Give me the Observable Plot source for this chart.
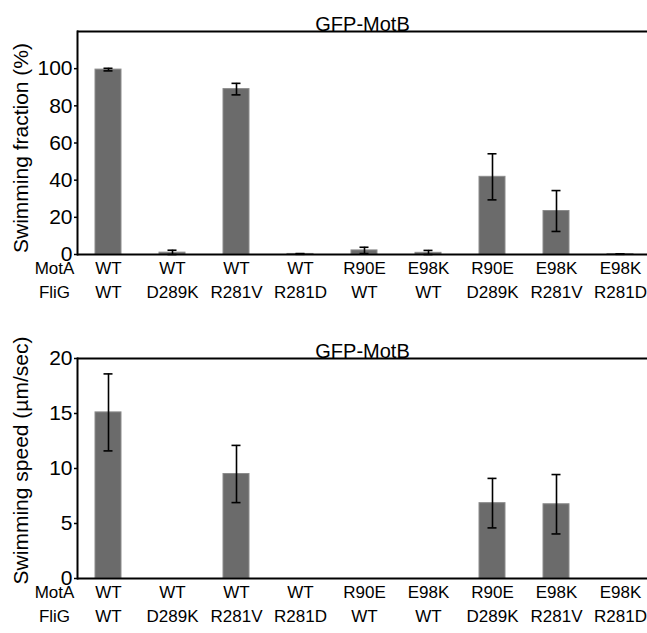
<!DOCTYPE html>
<html>
<head>
<meta charset="utf-8">
<script src="https://cdn.jsdelivr.net/npm/d3@7"></script>
<script src="https://cdn.jsdelivr.net/npm/@observablehq/plot@0.6"></script>
<style>
  html, body { margin: 0; padding: 0; background: white; }
  #chart svg { display: block; }
</style>
</head>
<body>
<div id="chart"></div>
<script>
const motA = ["WT", "WT", "WT", "WT", "R90E", "E98K", "R90E", "E98K", "E98K"];
const fliG = ["WT", "D289K", "R281V", "R281D", "WT", "WT", "D289K", "R281V", "R281D"];
const fraction = [99.5, 1.0, 89.0, 0.3, 2.2, 0.9, 41.8, 23.4, 0.2];
const fractionErr = [0.7, 1.3, 3.1, 0.2, 1.7, 1.3, 12.4, 11.0, 0.1];
const speed = [15.1, 0, 9.5, 0, 0, 0, 6.85, 6.75, 0];
const speedErr = [3.5, 0, 2.6, 0, 0, 0, 2.25, 2.7, 0];
const fractionTicks = [0, 20, 40, 60, 80, 100];
const speedTicks = [0, 5, 10, 15, 20];
const panelTitle = "GFP-MotB";
const rowLabels = ["MotA", "FliG"];

const FONT = "Arial, 'Liberation Sans', Helvetica, sans-serif";

function panel({values, errs, ticks, domain, label, height, marginTop, marginBottom, labelDy}) {
  const data = values.map((v, i) => ({i, v, e: errs[i], motA: motA[i], fliG: fliG[i]}));
  const errData = data.filter(d => d.e > 0);
  return Plot.plot({
    width: 647,
    height,
    marginLeft: 77,
    marginRight: 0,
    marginTop,
    marginBottom,
    style: {fontFamily: FONT, fontSize: "21px", color: "black", background: "white", overflow: "visible"},
    x: {domain: d3.range(values.length), range: [76, 652], paddingInner: 0.6, paddingOuter: 0.3, axis: null},
    y: {domain, axis: null},
    marks: [
      Plot.axisY(ticks, {tickSize: 3, tickPadding: 2, fontSize: 21, label: null, strokeWidth: 1.5}),
      Plot.barY(data, {x: "i", y: "v", fill: "#6b6b6b", stroke: "#8c8c8c", strokeWidth: 1}),
      Plot.ruleX(errData, {x: "i", y1: d => Math.max(0, d.v - d.e), y2: d => d.v + d.e, stroke: "black", strokeWidth: 1.6}),
      Plot.tickY(errData, {x: "i", y: d => Math.max(0, d.v - d.e), insetLeft: 8.5, insetRight: 8.5, stroke: "black", strokeWidth: 1.6}),
      Plot.tickY(errData, {x: "i", y: d => d.v + d.e, insetLeft: 8.5, insetRight: 8.5, stroke: "black", strokeWidth: 1.6}),
      Plot.ruleY([domain[0]], {stroke: "black", strokeWidth: 2}),
      Plot.ruleY([domain[1]], {stroke: "black", strokeWidth: 2}),
      Plot.frame({anchor: "left", stroke: "black", strokeWidth: 2}),
      Plot.text([panelTitle], {text: d => d, frameAnchor: "top", dy: -15, fontSize: 20}),
      Plot.text([label], {text: d => d, frameAnchor: "left", textAnchor: "middle", lineAnchor: "middle", rotate: -90, dx: -56, dy: labelDy, fontSize: 21}),
      Plot.text(data, {x: "i", text: "motA", frameAnchor: "bottom", dy: 19, fontSize: 17}),
      Plot.text(data, {x: "i", text: "fliG", frameAnchor: "bottom", dy: 43, fontSize: 17}),
      Plot.text([rowLabels[0]], {text: d => d, frameAnchor: "bottom-left", dx: -23, dy: 19, textAnchor: "middle", fontSize: 17}),
      Plot.text([rowLabels[1]], {text: d => d, frameAnchor: "bottom-left", dx: -23, dy: 43, textAnchor: "middle", fontSize: 17})
    ]
  });
}

const chart = document.getElementById("chart");
chart.append(panel({
  values: fraction, errs: fractionErr, ticks: fractionTicks, domain: [0, 120],
  label: "Swimming fraction (%)", height: 310, marginTop: 31, marginBottom: 56, labelDy: 5
}));
chart.append(panel({
  values: speed, errs: speedErr, ticks: speedTicks, domain: [0, 20],
  label: "Swimming speed (µm/sec)", height: 323, marginTop: 48, marginBottom: 55, labelDy: -8
}));
</script>
</body>
</html>
